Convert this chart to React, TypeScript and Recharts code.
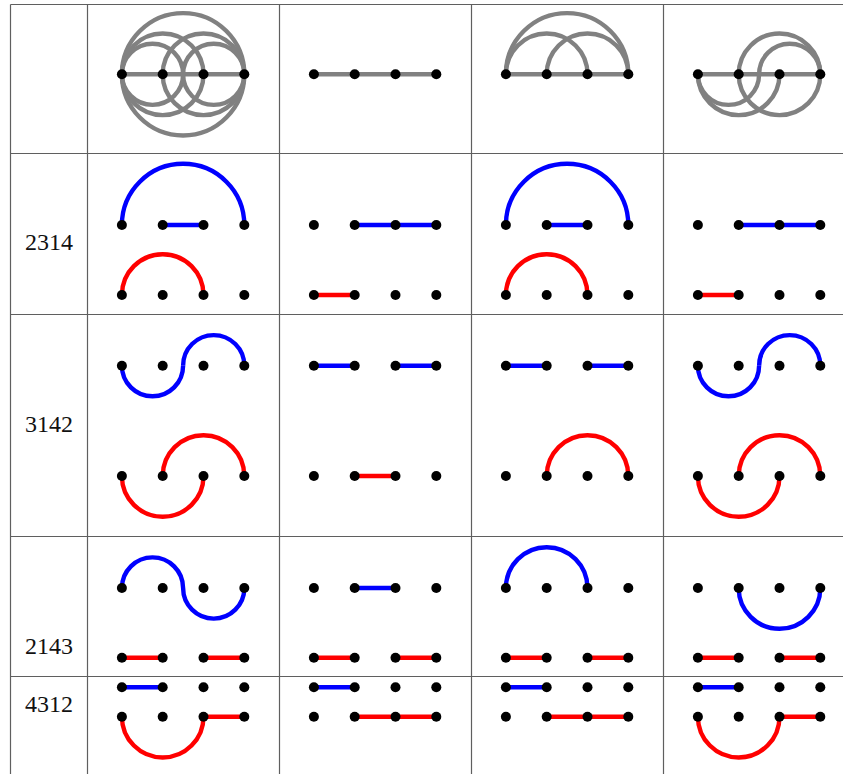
import React from 'react';
import { ComposedChart, XAxis, YAxis, Scatter, ReferenceLine } from 'recharts';

type Kind = 'up' | 'down' | 'flat';
type Link = [number, number, Kind];

// ---------- data ----------
const rowLabels = ['2314', '3142', '2143', '4312'];
const columnIds = [0, 1, 2, 3];
const nodeIds = [1, 2, 3, 4];

// header (gray) diagrams, one per column
const headerLinks: Link[][] = [
  [[1, 2, 'flat'], [2, 3, 'flat'], [3, 4, 'flat'],
   [1, 4, 'up'], [1, 4, 'down'], [1, 3, 'up'], [1, 3, 'down'], [2, 4, 'up'], [2, 4, 'down'],
   [1, 2.5, 'up'], [1, 2.5, 'down'], [2.5, 4, 'up'], [2.5, 4, 'down']],
  [[1, 2, 'flat'], [2, 3, 'flat'], [3, 4, 'flat']],
  [[1, 2, 'flat'], [2, 3, 'flat'], [3, 4, 'flat'], [1, 4, 'up'], [1, 3, 'up'], [2, 4, 'up']],
  [[1, 2, 'flat'], [2, 3, 'flat'], [3, 4, 'flat'], [2, 4, 'up'], [2.5, 4, 'up'],
   [1, 2.5, 'down'], [1, 3, 'down'], [2, 4, 'down']],
];

// blue links: per row, per column
const blueLinks: Link[][][] = [
  [[[1, 4, 'up'], [2, 3, 'flat']], [[2, 3, 'flat'], [3, 4, 'flat']], [[1, 4, 'up'], [2, 3, 'flat']], [[2, 3, 'flat'], [3, 4, 'flat']]],
  [[[1, 2.5, 'down'], [2.5, 4, 'up']], [[1, 2, 'flat'], [3, 4, 'flat']], [[1, 2, 'flat'], [3, 4, 'flat']], [[1, 2.5, 'down'], [2.5, 4, 'up']]],
  [[[1, 2.5, 'up'], [2.5, 4, 'down']], [[2, 3, 'flat']], [[1, 3, 'up']], [[2, 4, 'down']]],
  [[[1, 2, 'flat']], [[1, 2, 'flat']], [[1, 2, 'flat']], [[1, 2, 'flat']]],
];

// red links: per row, per column
const redLinks: Link[][][] = [
  [[[1, 3, 'up']], [[1, 2, 'flat']], [[1, 3, 'up']], [[1, 2, 'flat']]],
  [[[1, 3, 'down'], [2, 4, 'up']], [[2, 3, 'flat']], [[2, 4, 'up']], [[1, 3, 'down'], [2, 4, 'up']]],
  [[[1, 2, 'flat'], [3, 4, 'flat']], [[1, 2, 'flat'], [3, 4, 'flat']], [[1, 2, 'flat'], [3, 4, 'flat']], [[1, 2, 'flat'], [3, 4, 'flat']]],
  [[[1, 3, 'down'], [3, 4, 'flat']], [[2, 3, 'flat'], [3, 4, 'flat']], [[2, 3, 'flat'], [3, 4, 'flat']], [[1, 3, 'down'], [3, 4, 'flat']]],
];

// ---------- layout ----------
const W = 843;
const H = 774;
const FIRST_NODE_X = 121.9;
const COL_W = 192;
const NODE_GAP = 40.8;
const HEADER_LANE_Y = 74.3;
const ROW_LANE_Y: [number, number][] = [[225, 295], [365.7, 476], [588, 657.7], [687.3, 716.7]];
const LABEL_X = 49;
const LABEL_BASELINE = [249.5, 431.8, 654, 712.3];
const V_LINES = [10.5, 87.5, 279.5, 471.5, 663.5];
const H_LINES = [4.5, 153.5, 314.5, 536.5, 676.5];

const GRAY = '#818181';
const BLUE = '#0000ff';
const RED = '#ff0000';
const GRID = '#5f5f5f';

const nodeX = (col: number, node: number) => FIRST_NODE_X + col * COL_W + (node - 1) * NODE_GAP;

const lineRenderer = (kind: Kind, color: string) => (props: any) => {
  const pts = props.points;
  if (!pts || pts.length < 2) return <g />;
  const a = pts[0];
  const b = pts[1];
  let d: string;
  if (kind === 'flat') {
    d = `M${a.x},${a.y}L${b.x},${b.y}`;
  } else {
    const r = Math.abs(b.x - a.x) / 2;
    d = `M${a.x},${a.y}A${r},${r} 0 0 ${kind === 'up' ? 1 : 0} ${b.x},${b.y}`;
  }
  return <path d={d} fill="none" stroke={color} strokeWidth={4.4} />;
};

const EmptyShape = () => <g />;

type Series = { key: string; color: string; kind: Kind; data: { x: number; y: number }[] };
const series: Series[] = [];
const addLinks = (prefix: string, links: Link[], col: number, laneY: number, color: string) => {
  links.forEach((l, i) => {
    series.push({
      key: `${prefix}-${col}-${i}`,
      color,
      kind: l[2],
      data: [{ x: nodeX(col, l[0]), y: laneY }, { x: nodeX(col, l[1]), y: laneY }],
    });
  });
};
headerLinks.forEach((links, col) => addLinks('h', links, col, HEADER_LANE_Y, GRAY));
blueLinks.forEach((row, r) => row.forEach((links, col) => addLinks(`b${r}`, links, col, ROW_LANE_Y[r][0], BLUE)));
redLinks.forEach((row, r) => row.forEach((links, col) => addLinks(`r${r}`, links, col, ROW_LANE_Y[r][1], RED)));

const lanes = [HEADER_LANE_Y, ...ROW_LANE_Y.flat()];
const dots = lanes.flatMap((y) => columnIds.flatMap((col) => nodeIds.map((n) => ({ x: nodeX(col, n), y }))));
const labels = rowLabels.map((label, i) => ({ x: LABEL_X, y: LABEL_BASELINE[i], label }));

const DotShape = (p: any) => <circle cx={p.cx} cy={p.cy} r={5} fill="#000" />;
const LabelShape = (p: any) => (
  <text x={p.cx} y={p.cy} textAnchor="middle" fontFamily="'Liberation Serif', 'DejaVu Serif', serif" fontSize={24} fill="#111">
    {p.payload.label}
  </text>
);

export default function App() {
  return (
    <div style={{ position: 'absolute', left: 0, top: 0, background: '#fff' }}>
      <ComposedChart width={W} height={H} margin={{ top: 0, right: 0, bottom: 0, left: 0 }}>
        <XAxis type="number" dataKey="x" domain={[0, W]} hide allowDataOverflow />
        <YAxis type="number" dataKey="y" domain={[0, H]} reversed hide allowDataOverflow />
        {H_LINES.map((y, i) => (
          <ReferenceLine key={`hl${i}`} segment={[{ x: V_LINES[0], y }, { x: W, y }]} stroke={GRID} strokeWidth={1.2} ifOverflow="visible" />
        ))}
        {V_LINES.map((x, i) => (
          <ReferenceLine key={`vl${i}`} segment={[{ x, y: H_LINES[0] }, { x, y: H }]} stroke={GRID} strokeWidth={1.2} ifOverflow="visible" />
        ))}
        {series.map((s) => (
          <Scatter
            key={s.key}
            data={s.data}
            isAnimationActive={false}
            line={lineRenderer(s.kind, s.color)}
            shape={EmptyShape}
          />
        ))}
        <Scatter data={dots} isAnimationActive={false} shape={DotShape} />
        <Scatter data={labels} isAnimationActive={false} shape={LabelShape} />
      </ComposedChart>
    </div>
  );
}
